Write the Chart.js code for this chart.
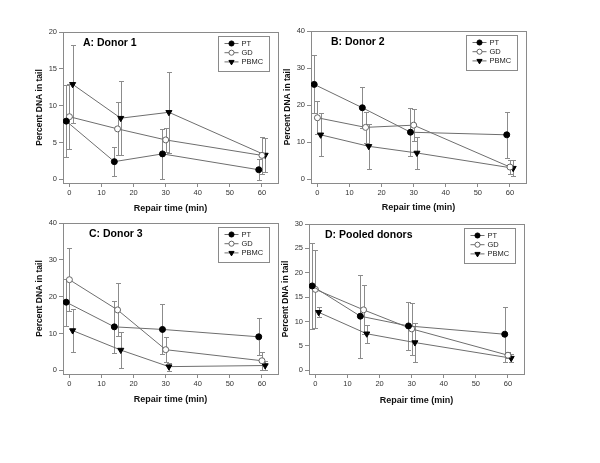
<!DOCTYPE html>
<html><head><meta charset="utf-8">
<script src="https://cdn.jsdelivr.net/npm/chart.js@4.4.0/dist/chart.umd.min.js"></script>
<style>
html,body{margin:0;padding:0;background:#fff;}
#wrap{position:relative;width:600px;height:463px;overflow:hidden;background:#fff;}
canvas{position:absolute;}
</style></head>
<body><div id="wrap">
<canvas id="cA"></canvas><canvas id="cB"></canvas><canvas id="cC"></canvas><canvas id="cD"></canvas>
</div>
<script>
// ---------- DATA ----------
const seriesNames = ['PT', 'GD', 'PBMC'];
const timesPT = [-1, 14, 29, 59];
const timesGD = [0, 15, 30, 60];
const timesPBMC = [1, 16, 31, 61];
const xTickValues = [0, 10, 20, 30, 40, 50, 60];
const xAxisTitle = 'Repair time (min)';
const yAxisTitle = 'Percent DNA in tail';
const panelTitles = ['A: Donor 1', 'B: Donor 2', 'C: Donor 3', 'D: Pooled donors'];

const yTicksA = [0, 5, 10, 15, 20];
const yTicksB = [0, 10, 20, 30, 40];
const yTicksC = [0, 10, 20, 30, 40];
const yTicksD = [0, 5, 10, 15, 20, 25, 30];

// Panel A: Donor 1
const A_PT = [7.9, 2.4, 3.45, 1.3];      const A_PT_SD = [4.9, 1.95, 3.4, 1.4];
const A_GD = [8.5, 6.85, 5.35, 3.25];    const A_GD_SD = [4.4, 3.6, 1.6, 2.5];
const A_PBMC = [12.9, 8.3, 9.1, 3.3];    const A_PBMC_SD = [5.3, 5.0, 5.5, 2.3];
// Panel B: Donor 2
const B_PT = [25.6, 19.3, 12.7, 12.0];   const B_PT_SD = [7.8, 5.5, 6.4, 6.2];
const B_GD = [16.6, 14.0, 14.6, 3.3];    const B_GD_SD = [4.5, 4.1, 4.4, 2.0];
const B_PBMC = [12.0, 8.9, 7.1, 3.0];    const B_PBMC_SD = [5.8, 6.1, 4.2, 2.2];
// Panel C: Donor 3
const C_PT = [18.5, 11.8, 11.1, 9.1];    const C_PT_SD = [6.4, 7.0, 6.8, 5.0];
const C_GD = [24.6, 16.4, 5.6, 2.6];     const C_GD_SD = [8.5, 7.2, 3.4, 2.4];
const C_PBMC = [10.8, 5.5, 1.0, 1.3];    const C_PBMC_SD = [5.8, 5.0, 1.1, 1.3];
// Panel D: Pooled donors
const D_PT = [17.3, 11.1, 9.1, 7.4];     const D_PT_SD = [8.8, 8.5, 5.0, 5.6];
const D_GD = [16.6, 12.4, 8.5, 3.1];     const D_GD_SD = [8.0, 5.0, 5.3, 0.6];
const D_PBMC = [11.9, 7.5, 5.7, 2.5];    const D_PBMC_SD = [1.05, 1.85, 4.0, 0.8];

// ---------- STYLE / LAYOUT ----------
const FONT = '"Liberation Sans", Arial, Helvetica, sans-serif';
const FRAME = '#8a8a8a';
const LINE = '#6e6e6e';
const ERR = '#8c8c8c';
const TICK_FONT = 7.5, LEG_FONT = 7.5, AX_FONT = 9, YT_FONT = 8.5, TITLE_FONT = 10.5;

const layouts = {
  A: {canvas: [0, 0, 300, 218],     area: [63, 32, 278, 183],   xTitleY: 209,   titleDx: 20},
  B: {canvas: [268, 0, 332, 218],   area: [311, 31, 526, 183],  xTitleY: 208,   titleDx: 20},
  C: {canvas: [0, 212, 300, 196],   area: [63, 223, 278, 374],  xTitleY: 400,   titleDx: 26},
  D: {canvas: [268, 212, 332, 196], area: [309, 224, 524, 374], xTitleY: 400.5, titleDx: 16}
};

const seriesStyles = [
  {pointStyle: 'circle', rotation: 0, radius: 3, bg: '#000', border: '#000'},
  {pointStyle: 'circle', rotation: 0, radius: 3, bg: '#fff', border: '#666'},
  {pointStyle: 'triangle', rotation: 180, radius: 3.5, bg: '#000', border: '#000'}
];

// ---------- PLUGINS ----------
const errorBars = {
  id: 'errorBars',
  beforeDatasetsDraw(chart) {
    const {ctx, scales: {x, y}} = chart;
    ctx.save();
    ctx.strokeStyle = ERR; ctx.lineWidth = 1;
    chart.data.datasets.forEach(ds => {
      ds.data.forEach((p, i) => {
        const e = ds.errors[i];
        const px = Math.round(x.getPixelForValue(p.x)) + 0.5;
        const yt = Math.round(y.getPixelForValue(p.y + e)) + 0.5;
        const yb = Math.round(y.getPixelForValue(p.y - e)) + 0.5;
        ctx.beginPath();
        ctx.moveTo(px, yt); ctx.lineTo(px, yb);
        ctx.moveTo(px - 2.5, yt); ctx.lineTo(px + 2.5, yt);
        ctx.moveTo(px - 2.5, yb); ctx.lineTo(px + 2.5, yb);
        ctx.stroke();
      });
    });
    ctx.restore();
  }
};

const frameBox = {
  id: 'frameBox',
  beforeDatasetsDraw(chart) {
    const a = chart.chartArea, ctx = chart.ctx;
    ctx.save();
    ctx.strokeStyle = FRAME; ctx.lineWidth = 1;
    const l = Math.round(a.left) + 0.5, t = Math.round(a.top) + 0.5;
    const r = Math.round(a.right) + 0.5, b = Math.round(a.bottom) + 0.5;
    ctx.strokeRect(l, t, r - l, b - t);
    ctx.restore();
  }
};

const panelDeco = {
  id: 'panelDeco',
  afterDatasetsDraw(chart, args, opts) {
    const a = chart.chartArea, ctx = chart.ctx;
    ctx.save();
    ctx.fillStyle = '#000';
    ctx.font = 'bold ' + TITLE_FONT + 'px ' + FONT;
    ctx.textBaseline = 'middle'; ctx.textAlign = 'left';
    ctx.fillText(opts.title, a.left + opts.titleDx, a.top + 11);
    const w = 51, h = 35;
    const bx = Math.round(a.right - 9 - w) + 0.5, by = Math.round(a.top + 4) + 0.5;
    ctx.fillStyle = '#fff'; ctx.fillRect(bx, by, w, h);
    ctx.strokeStyle = FRAME; ctx.lineWidth = 1; ctx.strokeRect(bx, by, w, h);
    chart.data.datasets.forEach((ds, i) => {
      const st = seriesStyles[i];
      const cy = by + 7 + i * 9.2;
      ctx.strokeStyle = LINE; ctx.lineWidth = 1;
      ctx.beginPath(); ctx.moveTo(bx + 6, cy); ctx.lineTo(bx + 20, cy); ctx.stroke();
      ctx.fillStyle = st.bg; ctx.strokeStyle = st.border;
      Chart.helpers.drawPoint(ctx, {pointStyle: st.pointStyle, rotation: st.rotation, radius: st.radius * 0.85, borderWidth: 1}, bx + 13, cy);
      ctx.fillStyle = '#222';
      ctx.font = LEG_FONT + 'px ' + FONT;
      ctx.textAlign = 'left'; ctx.textBaseline = 'middle';
      ctx.fillText(ds.label, bx + 23, cy + 0.5);
    });
    ctx.restore();
  }
};

function makePanel(id, L, title, yTicks, vals, sds) {
  const [cl, ct, cw, ch] = L.canvas;
  const [al, at, ar, ab] = L.area;
  const cv = document.getElementById(id);
  cv.width = cw; cv.height = ch;
  cv.style.left = cl + 'px'; cv.style.top = ct + 'px';
  cv.style.width = cw + 'px'; cv.style.height = ch + 'px';
  const yTitleX = al - 23;
  const yHalf = YT_FONT * 1.2 / 2;
  const padLeft = Math.max(0, Math.round(yTitleX - yHalf - cl));
  const yW = al - cl - padLeft;
  const xH = ct + ch - ab;
  const xTitlePadBottom = (ct + ch) - L.xTitleY - AX_FONT * 1.2 / 2;
  const yMax = yTicks[yTicks.length - 1];
  const timeSets = [timesPT, timesGD, timesPBMC];
  const datasets = seriesNames.map((name, i) => ({
    label: name,
    data: vals[i].map((v, j) => ({x: timeSets[i][j], y: v})),
    errors: sds[i],
    showLine: true,
    borderColor: LINE,
    borderWidth: 1,
    pointStyle: seriesStyles[i].pointStyle,
    pointRotation: seriesStyles[i].rotation,
    pointRadius: seriesStyles[i].radius,
    pointBackgroundColor: seriesStyles[i].bg,
    pointBorderColor: seriesStyles[i].border,
    pointBorderWidth: 1,
    tension: 0
  }));
  return new Chart(cv, {
    type: 'scatter',
    data: {datasets},
    options: {
      responsive: false, animation: false, devicePixelRatio: 1,
      layout: {padding: {left: padLeft, top: at - ct, right: (cl + cw) - ar, bottom: 0}},
      plugins: {legend: {display: false}, tooltip: {enabled: false},
                panelDeco: {title: title, titleDx: L.titleDx}},
      scales: {
        x: {
          type: 'linear', position: 'bottom', min: -2, max: 65,
          afterBuildTicks: s => { s.ticks = xTickValues.map(v => ({value: v})); },
          afterFit: s => { s.height = xH; },
          grid: {display: true, drawOnChartArea: false, drawTicks: true, tickLength: 4, color: FRAME},
          border: {display: false},
          ticks: {font: {family: FONT, size: TICK_FONT}, color: '#333', padding: 1, maxRotation: 0, autoSkip: false},
          title: {display: true, text: xAxisTitle, color: '#111',
                  font: {family: FONT, size: AX_FONT, weight: 'bold'}, padding: {top: 0, bottom: xTitlePadBottom}}
        },
        y: {
          type: 'linear', position: 'left', min: -yMax * 0.025, max: yMax,
          afterBuildTicks: s => { s.ticks = yTicks.map(v => ({value: v})); },
          afterFit: s => { s.width = yW; },
          grid: {display: true, drawOnChartArea: false, drawTicks: true, tickLength: 4, color: FRAME},
          border: {display: false},
          ticks: {font: {family: FONT, size: TICK_FONT}, color: '#333', padding: 2, autoSkip: false},
          title: {display: true, text: yAxisTitle, color: '#111',
                  font: {family: FONT, size: YT_FONT, weight: 'bold'}, padding: {top: 0, bottom: 0}}
        }
      }
    },
    plugins: [frameBox, errorBars, panelDeco]
  });
}

makePanel('cA', layouts.A, panelTitles[0], yTicksA, [A_PT, A_GD, A_PBMC], [A_PT_SD, A_GD_SD, A_PBMC_SD]);
makePanel('cB', layouts.B, panelTitles[1], yTicksB, [B_PT, B_GD, B_PBMC], [B_PT_SD, B_GD_SD, B_PBMC_SD]);
makePanel('cC', layouts.C, panelTitles[2], yTicksC, [C_PT, C_GD, C_PBMC], [C_PT_SD, C_GD_SD, C_PBMC_SD]);
makePanel('cD', layouts.D, panelTitles[3], yTicksD, [D_PT, D_GD, D_PBMC], [D_PT_SD, D_GD_SD, D_PBMC_SD]);
</script>
</body></html>
